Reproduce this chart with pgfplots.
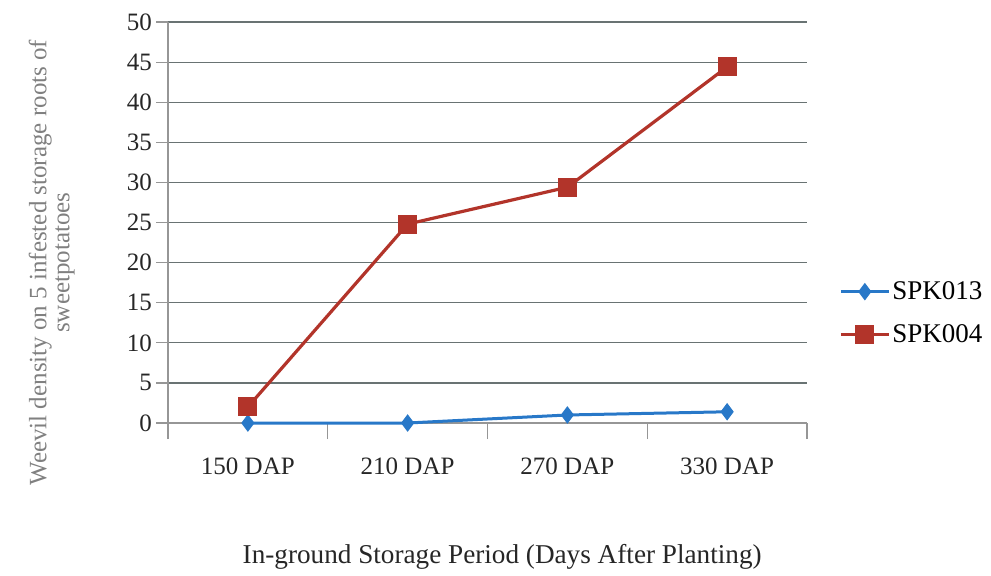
\documentclass[border=0pt]{standalone}
\usepackage{pgfplots}
\pgfplotsset{compat=1.18}
\usepackage{fontspec}
\setmainfont{Liberation Serif}
\definecolor{sblue}{RGB}{40,120,200}
\definecolor{sred}{RGB}{178,52,42}
\definecolor{gridc}{RGB}{105,115,115}
\definecolor{axc}{RGB}{150,150,150}
\begin{document}
\begin{tikzpicture}
\useasboundingbox (0,0) rectangle (495.5pt,287.5pt);
\begin{axis}[
  at={(84pt,76pt)}, anchor=south west,
  scale only axis, width=319.5pt, height=200.5pt,
  xmin=-0.5, xmax=3.5, ymin=0, ymax=50,
  axis x line*=bottom, axis y line*=left,
  axis line style={axc, line width=0.6pt},
  xtick={0,1,2,3},
  xticklabels={150 DAP,210 DAP,270 DAP,330 DAP},
  x tick style={draw=none},
  extra x ticks={-0.5,0.5,1.5,2.5,3.5},
  extra x tick labels={},
  extra x tick style={x tick style={draw=axc, line width=0.6pt}, major tick length=8pt, tick align=outside},
  ytick={0,5,...,50},
  y tick style={draw=axc, line width=0.6pt},
  major tick length=6pt, tick align=outside,
  ymajorgrids, grid style={gridc, line width=0.6pt},
  /pgf/number format/assume math mode=true,
  tick label style={font=\fontsize{12.5}{14}\selectfont, text=black!85},
  xticklabel style={yshift=-8pt},
  yticklabel style={xshift=1.5pt},
  xlabel={In-ground Storage Period (Days After Planting)},
  xlabel style={font=\fontsize{13.6}{15}\selectfont, text=black!85, at={(axis description cs:0.523,0)}, anchor=center, yshift=-67pt},
  ylabel={Weevil density on 5 infested storage roots of\\sweetpotatoes},
  ylabel style={font=\fontsize{12.5}{11.5}\selectfont, text=black!50, align=center, at={(axis description cs:-0.182,0.40)}, anchor=center},
  legend style={at={(1.050,0.274)}, anchor=west, draw=none, fill=none,
    font=\fontsize{13.5}{15}\selectfont, row sep=9pt, inner sep=0pt,
    nodes={inner sep=1pt},
    /tikz/every odd column/.style={column sep=0pt}},
  legend cell align=left,
  legend image code/.code={\draw[mark repeat=2,mark phase=2,#1] plot coordinates {(0cm,0cm)(0.42cm,0cm)(0.84cm,0cm)};},
  clip=false,
]
\addplot[sblue, line width=1.5pt, mark=diamond*, mark size=4pt, mark options={fill=sblue, line width=0.5pt}]
  coordinates {(0,0) (1,0) (2,1.0) (3,1.4)};
\addlegendentry{SPK013}
\addplot[sred, line width=1.6pt, mark=square*, mark size=4.5pt, mark options={fill=sred, line width=0.5pt}]
  coordinates {(0,2.0) (1,24.8) (2,29.4) (3,44.4)};
\addlegendentry{SPK004}
\end{axis}
\end{tikzpicture}
\end{document}
